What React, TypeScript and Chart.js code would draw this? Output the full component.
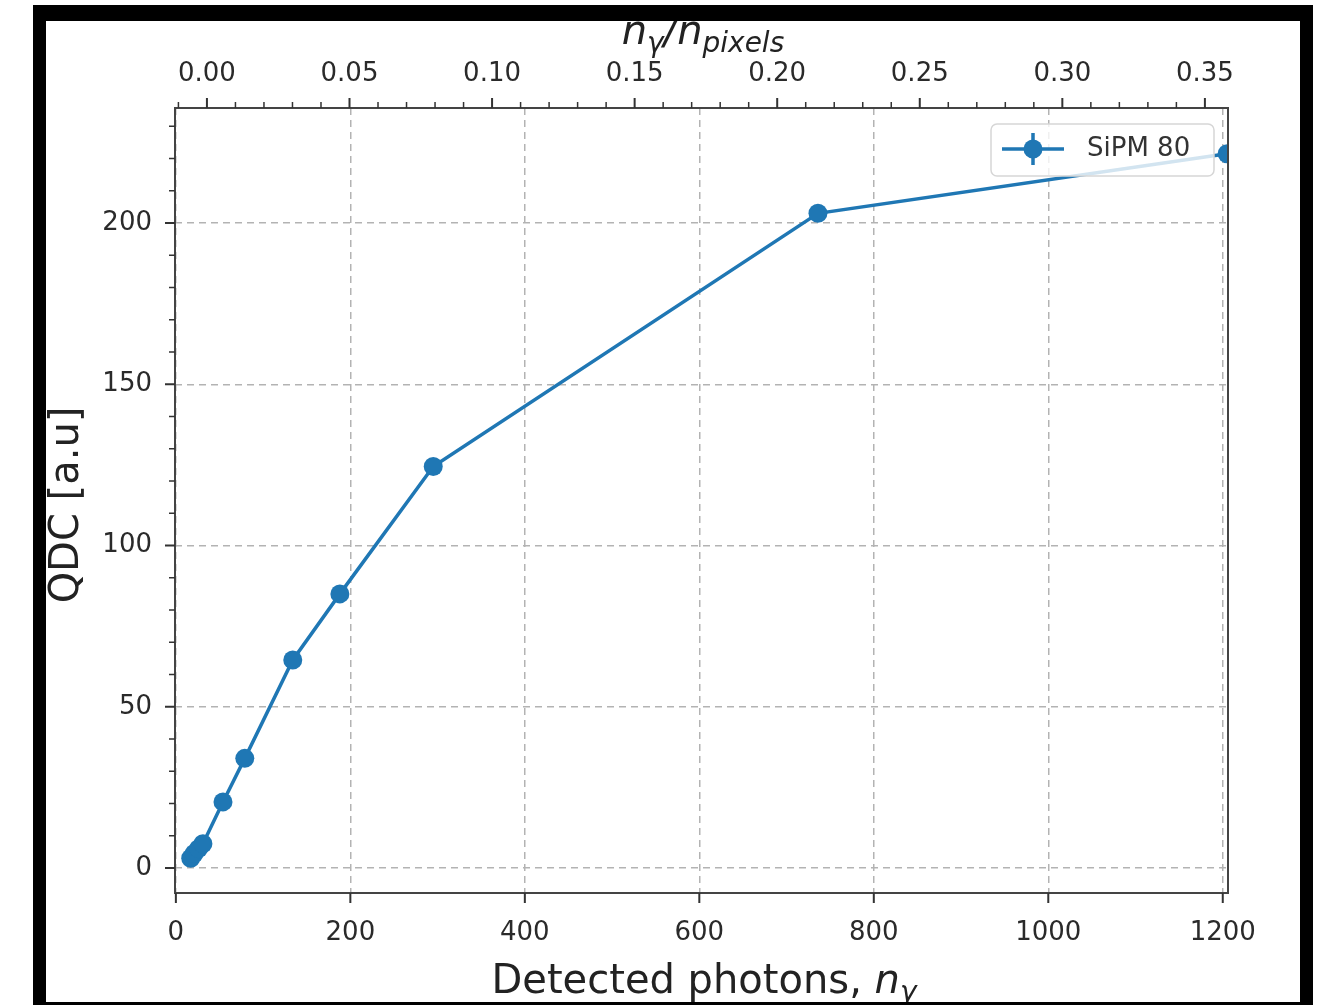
import React, { useEffect, useRef } from "react";
import { Chart, registerables } from "chart.js";

Chart.register(...registerables);

// ---- data ----
const photons = [17, 21, 26, 31, 54, 79, 134, 188, 295, 736, 1205];
const qdc = [3, 4.5, 6, 7.5, 20.5, 34, 64.5, 85, 124.5, 203, 221.5];
const seriesLabel = "SiPM 80";

// ---- ticks ----
const xTicks = [0, 200, 400, 600, 800, 1000, 1200];
const yTicks = [0, 50, 100, 150, 200];
const yMinorTicks = [10, 20, 30, 40, 60, 70, 80, 90, 110, 120, 130, 140, 160, 170, 180, 190, 210, 220, 230];
const topTicks = [0, 0.05, 0.1, 0.15, 0.2, 0.25, 0.3, 0.35];
const topMinorTicks = [
  -0.01, 0.01, 0.02, 0.03, 0.04, 0.06, 0.07, 0.08, 0.09, 0.11, 0.12, 0.13, 0.14,
  0.16, 0.17, 0.18, 0.19, 0.21, 0.22, 0.23, 0.24, 0.26, 0.27, 0.28, 0.29, 0.31,
  0.32, 0.33, 0.34,
];

const FAMILY = "DejaVu Sans";
const BLUE = "#1f77b4";
const TEXT = "#222";

type Run = { t: string; f: string; dy?: number };

function drawRuns(ctx: CanvasRenderingContext2D, runs: Run[], cx: number, baseline: number) {
  let total = 0;
  const widths = runs.map((r) => {
    ctx.font = r.f;
    const w = ctx.measureText(r.t).width;
    total += w;
    return w;
  });
  let x = cx - total / 2;
  ctx.textAlign = "left";
  ctx.textBaseline = "alphabetic";
  runs.forEach((r, i) => {
    ctx.font = r.f;
    ctx.fillText(r.t, x, baseline + (r.dy || 0));
    x += widths[i];
  });
}

const decorPlugin = {
  id: "decor",
  afterDatasetsDraw(chart: any) {
    const ctx: CanvasRenderingContext2D = chart.ctx;
    // legend
    ctx.save();
    const bx = 991, by = 124, bw = 223, bh = 52, r = 6;
    ctx.beginPath();
    ctx.moveTo(bx + r, by);
    ctx.arcTo(bx + bw, by, bx + bw, by + bh, r);
    ctx.arcTo(bx + bw, by + bh, bx, by + bh, r);
    ctx.arcTo(bx, by + bh, bx, by, r);
    ctx.arcTo(bx, by, bx + bw, by, r);
    ctx.closePath();
    ctx.fillStyle = "rgba(255,255,255,0.8)";
    ctx.fill();
    ctx.strokeStyle = "#d6d6d6";
    ctx.lineWidth = 1.5;
    ctx.stroke();
    const ly = 149;
    ctx.strokeStyle = BLUE;
    ctx.lineWidth = 3.5;
    ctx.beginPath();
    ctx.moveTo(1002, ly);
    ctx.lineTo(1064, ly);
    ctx.moveTo(1033, ly - 16);
    ctx.lineTo(1033, ly + 16);
    ctx.stroke();
    ctx.fillStyle = BLUE;
    ctx.beginPath();
    ctx.arc(1033, ly, 9.5, 0, Math.PI * 2);
    ctx.fill();
    ctx.fillStyle = "#333";
    ctx.font = `26px "${FAMILY}"`;
    ctx.textAlign = "left";
    ctx.textBaseline = "middle";
    ctx.fillText(chart.data.datasets[0].label, 1087, ly);
    ctx.restore();
  },
  afterDraw(chart: any) {
    const ctx: CanvasRenderingContext2D = chart.ctx;
    const a = chart.chartArea;
    const sx = chart.scales.x;
    const sy = chart.scales.y;
    const st = chart.scales.x2;
    ctx.save();
    // spines
    ctx.strokeStyle = "#444";
    ctx.lineWidth = 2;
    ctx.strokeRect(a.left, a.top, a.right - a.left, a.bottom - a.top);
    // ticks
    ctx.strokeStyle = "#333";
    ctx.lineWidth = 2;
    ctx.beginPath();
    xTicks.forEach((v) => {
      const p = sx.getPixelForValue(v);
      ctx.moveTo(p, a.bottom);
      ctx.lineTo(p, a.bottom + 10);
    });
    yTicks.forEach((v) => {
      const p = sy.getPixelForValue(v);
      ctx.moveTo(a.left, p);
      ctx.lineTo(a.left - 10, p);
    });
    topTicks.forEach((v) => {
      const p = st.getPixelForValue(v);
      ctx.moveTo(p, a.top);
      ctx.lineTo(p, a.top - 10);
    });
    ctx.stroke();
    ctx.lineWidth = 1.5;
    ctx.beginPath();
    yMinorTicks.forEach((v) => {
      const p = sy.getPixelForValue(v);
      ctx.moveTo(a.left, p);
      ctx.lineTo(a.left - 6, p);
    });
    topMinorTicks.forEach((v) => {
      const p = st.getPixelForValue(v);
      ctx.moveTo(p, a.top);
      ctx.lineTo(p, a.top - 6);
    });
    ctx.stroke();

    // titles
    ctx.fillStyle = TEXT;
    drawRuns(
      ctx,
      [
        { t: "Detected photons, ", f: `40px "${FAMILY}"` },
        { t: "n", f: `italic 40px "${FAMILY}"` },
        { t: "γ", f: `italic 28px "${FAMILY}"`, dy: 8 },
      ],
      704,
      993
    );
    drawRuns(
      ctx,
      [
        { t: "n", f: `italic 40px "${FAMILY}"` },
        { t: "γ", f: `italic 28px "${FAMILY}"`, dy: 8 },
        { t: "/", f: `italic 40px "${FAMILY}"` },
        { t: "n", f: `italic 40px "${FAMILY}"` },
        { t: "pixels", f: `italic 28px "${FAMILY}"`, dy: 8 },
      ],
      703,
      44
    );
    ctx.translate(78, 505);
    ctx.rotate(-Math.PI / 2);
    ctx.font = `40px "${FAMILY}"`;
    ctx.textAlign = "center";
    ctx.textBaseline = "alphabetic";
    ctx.fillText("QDC [a.u]", 0, 0);
    ctx.restore();
  },
};

export default function App() {
  const ref = useRef<HTMLCanvasElement | null>(null);

  useEffect(() => {
    if (!ref.current) return;
    const tickFont = { family: FAMILY, size: 26 };
    const chart = new Chart(ref.current, {
      type: "line",
      data: {
        datasets: [
          {
            label: seriesLabel,
            data: photons.map((x, i) => ({ x, y: qdc[i] })),
            borderColor: BLUE,
            backgroundColor: BLUE,
            borderWidth: 3.5,
            pointRadius: 9.5,
            pointHoverRadius: 9.5,
            pointBorderWidth: 0,
            pointBackgroundColor: BLUE,
            tension: 0,
            fill: false,
            clip: 0,
          } as any,
        ],
      },
      options: {
        responsive: false,
        animation: false,
        events: [],
        layout: { padding: { left: 0, right: 95, top: 0, bottom: 0 } },
        plugins: { legend: { display: false }, tooltip: { enabled: false } },
        scales: {
          x: {
            type: "linear",
            position: "bottom",
            min: -1,
            max: 1206,
            afterBuildTicks: (s: any) => {
              s.ticks = xTicks.map((v) => ({ value: v }));
            },
            afterFit: (s: any) => {
              s.height = 112;
            },
            ticks: {
              font: tickFont,
              color: "#2a2a2a",
              padding: 25,
              maxRotation: 0,
              autoSkip: false,
              callback: (v: any) => String(v),
            },
            grid: { color: "#b3b3b3", lineWidth: 1.5, drawTicks: false },
            border: { display: false, dash: [7, 5] },
          },
          x2: {
            type: "linear",
            position: "top",
            min: -0.0112,
            max: 0.3581,
            afterBuildTicks: (s: any) => {
              s.ticks = topTicks.map((v) => ({ value: v }));
            },
            afterFit: (s: any) => {
              s.height = 108;
            },
            ticks: {
              font: tickFont,
              color: "#2a2a2a",
              padding: 18,
              maxRotation: 0,
              autoSkip: false,
              callback: (v: any) => Number(v).toFixed(2),
            },
            grid: { display: false, drawTicks: false },
            border: { display: false },
          },
          y: {
            type: "linear",
            position: "left",
            min: -7.75,
            max: 235.66,
            afterBuildTicks: (s: any) => {
              s.ticks = yTicks.map((v) => ({ value: v }));
            },
            afterFit: (s: any) => {
              s.width = 175;
            },
            ticks: {
              font: tickFont,
              color: "#2a2a2a",
              padding: 23,
              autoSkip: false,
              callback: (v: any) => String(v),
            },
            grid: { color: "#b3b3b3", lineWidth: 1.5, drawTicks: false },
            border: { display: false, dash: [7, 5] },
          },
        },
      } as any,
      plugins: [decorPlugin],
    });
    return () => chart.destroy();
  }, []);

  const bar = (s: React.CSSProperties): React.CSSProperties => ({
    position: "absolute",
    background: "#000",
    ...s,
  });

  return (
    <div style={{ position: "absolute", left: 0, top: 0, width: 1323, height: 1005, background: "#fff", overflow: "hidden" }}>
      <canvas ref={ref} width={1323} height={1005} style={{ position: "absolute", left: 0, top: 0, width: 1323, height: 1005 }} />
      <div style={bar({ left: 33, top: 5, width: 1280, height: 16 })} />
      <div style={bar({ left: 33, top: 5, width: 13, height: 1000 })} />
      <div style={bar({ left: 1300, top: 5, width: 13, height: 1000 })} />
      <div style={bar({ left: 33, top: 1002, width: 1280, height: 3 })} />
    </div>
  );
}
